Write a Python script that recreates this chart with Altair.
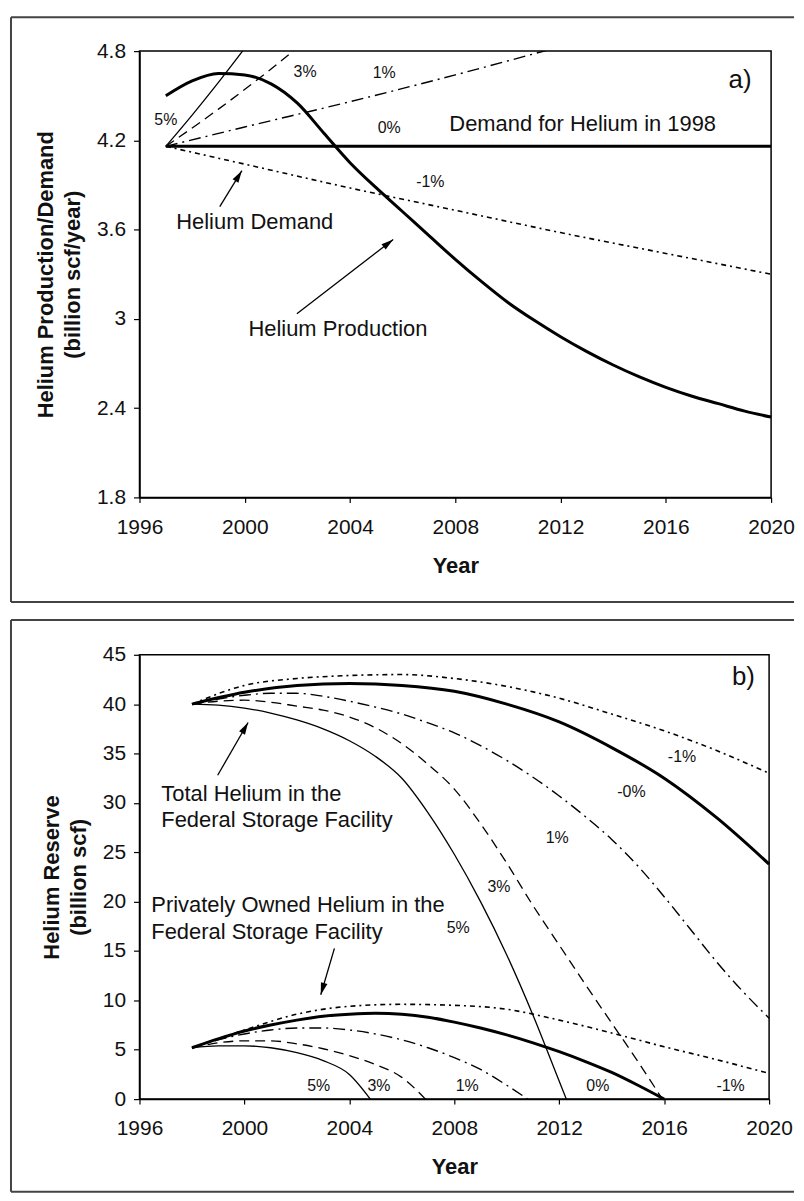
import math
import altair as alt
import pandas as pd

FONT = "Liberation Sans"

# ---------------- Panel a data (billion scf/year) ----------------
prod_years = list(range(1997, 2021))
prod_values = [4.50, 4.60, 4.65, 4.64, 4.58, 4.45, 4.25, 4.05, 3.88, 3.72, 3.56, 3.40,
               3.25, 3.11, 2.99, 2.88, 2.78, 2.69, 2.61, 2.54, 2.48, 2.43, 2.38, 2.34]

dem5_years = [1997, 1998, 1999, 2000, 2001]
dem5_values = [4.16, 4.37, 4.59, 4.82, 5.06]
dem3_years = [1997, 1999, 2001, 2003]
dem3_values = [4.16, 4.41, 4.68, 4.97]
dem1_years = [1997, 2000, 2004, 2008, 2012, 2016, 2020]
dem1_values = [4.16, 4.29, 4.46, 4.64, 4.83, 5.02, 5.23]
dem0_years = [1997, 2020]
dem0_values = [4.16, 4.16]
demm1_years = [1997, 2000, 2004, 2008, 2012, 2016, 2020]
demm1_values = [4.16, 4.04, 3.88, 3.73, 3.58, 3.44, 3.30]

a_x_ticks = [1996, 2000, 2004, 2008, 2012, 2016, 2020]
a_y_ticks = [1.8, 2.4, 3.0, 3.6, 4.2, 4.8]

a_pct_labels = [("5%", 1997.0, 4.34), ("3%", 2002.29, 4.66), ("1%", 2005.30, 4.65),
                ("0%", 2005.49, 4.28), ("-1%", 2007.05, 3.92)]
a_notes = [("Demand for Helium in 1998", 2012.84, 4.313),
           ("Helium Demand", 2000.38, 3.648),
           ("Helium Production", 2003.54, 2.934)]
a_tag = [("a)", 2018.82, 4.606)]
a_arrows = [(1999.05, 3.755, 1999.89, 3.996), (2001.98, 3.034, 2005.64, 3.534)]

# ---------------- Panel b data (billion scf) ----------------
tot_m1_years = [1998, 2000, 2002, 2004, 2006, 2008, 2010, 2012, 2014, 2016, 2018, 2020]
tot_m1_values = [40.0, 41.9, 42.6, 42.9, 43.0, 42.6, 41.8, 40.6, 39.0, 37.3, 35.3, 33.0]
tot_0_years = [1998, 2000, 2002, 2004, 2006, 2008, 2010, 2012, 2014, 2016, 2018, 2020]
tot_0_values = [40.0, 41.2, 41.9, 42.1, 41.9, 41.3, 40.0, 38.2, 35.6, 32.5, 28.5, 23.8]
tot_1_years = [1998, 2000, 2001, 2002, 2003, 2004, 2005, 2006, 2007, 2008, 2009, 2010,
               2011, 2012, 2013, 2014, 2015, 2016, 2017, 2018, 2019, 2020]
tot_1_values = [40.0, 40.9, 41.1, 41.1, 40.8, 40.3, 39.7, 39.0, 38.1, 37.1, 35.8, 34.3,
                32.6, 30.7, 28.6, 26.3, 23.6, 20.5, 17.2, 13.9, 10.9, 8.2]
tot_3_years = [1998, 1999, 2000, 2001, 2002, 2003, 2004, 2005, 2006, 2007, 2008, 2009,
               2010, 2011, 2012, 2013, 2014, 2015, 2015.93]
tot_3_values = [40.0, 40.3, 40.4, 40.2, 39.8, 39.4, 38.7, 37.6, 36.0, 33.9, 31.4, 27.9,
                23.9, 19.6, 15.6, 11.6, 7.7, 3.8, 0.0]
tot_5_years = [1998, 1999, 2000, 2001, 2002, 2003, 2004, 2005, 2006, 2007, 2008, 2009,
               2010, 2011, 2012, 2012.27]
tot_5_values = [40.0, 39.9, 39.6, 39.1, 38.4, 37.5, 36.3, 34.7, 32.5, 29.0, 24.8, 20.0,
                14.6, 8.5, 1.8, 0.0]

pri_m1_years = [1998, 2000, 2002, 2004, 2006, 2008, 2010, 2012, 2014, 2016, 2018, 2020]
pri_m1_values = [5.2, 7.0, 8.6, 9.4, 9.6, 9.5, 9.1, 8.0, 6.7, 5.3, 4.0, 2.6]
pri_0_years = [1998, 1999, 2000, 2001, 2002, 2003, 2004, 2005, 2006, 2007, 2008, 2009,
               2010, 2011, 2012, 2013, 2014, 2015, 2016]
pri_0_values = [5.2, 6.1, 6.9, 7.5, 8.0, 8.4, 8.6, 8.7, 8.6, 8.3, 7.8, 7.2,
                6.5, 5.7, 4.8, 3.8, 2.7, 1.4, 0.0]
pri_1_years = [1998, 1999, 2000, 2001, 2002, 2003, 2004, 2005, 2006, 2007, 2008, 2009,
               2010, 2010.8]
pri_1_values = [5.2, 6.0, 6.6, 7.0, 7.2, 7.2, 7.0, 6.6, 6.0, 5.2, 4.2, 3.0, 1.4, 0.0]
pri_3_years = [1998, 1999, 2000, 2001, 2002, 2003, 2004, 2005, 2006, 2006.9]
pri_3_values = [5.2, 5.7, 5.9, 5.9, 5.6, 5.1, 4.4, 3.5, 2.2, 0.0]
pri_5_years = [1998, 1999, 2000, 2001, 2002, 2003, 2004, 2004.8]
pri_5_values = [5.2, 5.4, 5.4, 5.2, 4.7, 3.9, 2.5, 0.0]

b_x_ticks = [1996, 2000, 2004, 2008, 2012, 2016, 2020]
b_y_ticks = [0, 5, 10, 15, 20, 25, 30, 35, 40, 45]

b_pct_labels = [("-1%", 2016.68, 34.6), ("-0%", 2014.75, 31.1), ("1%", 2011.92, 26.45),
                ("3%", 2009.70, 21.5), ("5%", 2008.15, 17.3),
                ("5%", 2002.83, 1.31), ("3%", 2005.13, 1.31), ("1%", 2008.49, 1.31),
                ("0%", 2013.47, 1.31), ("-1%", 2018.53, 1.31)]
b_notes = [("Total Helium in the", 1996.83, 30.9),
           ("Federal Storage Facility", 1996.83, 28.25),
           ("Privately Owned Helium in the", 1996.45, 19.68),
           ("Federal Storage Facility", 1996.45, 16.95)]
b_tag = [("b)", 2019.02, 42.7)]
b_arrows = [(1998.98, 32.8, 2000.14, 38.14), (2003.43, 15.27, 2002.91, 10.57)]

# ---------------- styles ----------------
S5 = dict(strokeWidth=1.3)
S3 = dict(strokeWidth=1.3, strokeDash=[10, 6])
S1 = dict(strokeWidth=1.4, strokeDash=[12, 5, 2, 5])
S0 = dict(strokeWidth=3)
SM1 = dict(strokeWidth=1.6, strokeDash=[5, 4, 2, 4])

ARROW = "M0,0L-0.35,1.25L0.35,1.25Z"
INK = "#111"

WA, HA = 634, 448
WB, HB = 632, 446
LEFT = 129
RIGHT_END = 796 - 139


def enc_x(ticks):
    return alt.X("year:Q", scale=alt.Scale(domain=[1996, 2020], nice=False, zero=False),
                 axis=alt.Axis(values=ticks, format="d", title="Year", labelFlush=False,
                               tickSize=5, labelPadding=14, titlePadding=18))


def enc_y(domain, ticks, fmt, title):
    return alt.Y("value:Q", scale=alt.Scale(domain=domain, nice=False, zero=False),
                 axis=alt.Axis(values=ticks, format=fmt, title=title, tickSize=6,
                               labelPadding=8, titlePadding=12, titleLineHeight=27))


def line(years, values, style, X, Y, clip=False):
    df = pd.DataFrame({"year": years, "value": values})
    return alt.Chart(df).mark_line(color="black", interpolate="monotone", clip=clip,
                                   **style).encode(x=X, y=Y)


def texts(items, X, Y, size, align="center"):
    df = pd.DataFrame(items, columns=["label", "year", "value"])
    return alt.Chart(df).mark_text(font=FONT, fontSize=size, align=align, baseline="middle",
                                   color=INK).encode(x=X, y=Y, text="label:N")


def arrows(items, X, Y, pxx, pxy):
    layers = []
    for (x0, y0, x1, y1) in items:
        dx = (x1 - x0) * pxx
        dy_up = (y1 - y0) * pxy
        ang = math.degrees(math.atan2(dx, dy_up)) % 360
        df = pd.DataFrame({"year": [x0, x1], "value": [y0, y1]})
        layers.append(alt.Chart(df).mark_line(color="black", strokeWidth=1.3).encode(x=X, y=Y))
        hd = pd.DataFrame({"year": [x1], "value": [y1]})
        layers.append(alt.Chart(hd).mark_point(shape=ARROW, filled=True, color="black",
                                               opacity=1, size=380, angle=ang).encode(x=X, y=Y))
    return layers


def frame(W, H, top, bottom, right_end):
    d = alt.Data(values=[{}])
    style = dict(color="#444", strokeWidth=2)
    t = alt.Chart(d).mark_rule(**style).encode(x=alt.value(-LEFT), x2=alt.value(right_end),
                                                y=alt.value(-top))
    b = alt.Chart(d).mark_rule(**style).encode(x=alt.value(-LEFT), x2=alt.value(right_end),
                                                y=alt.value(H + bottom))
    l = alt.Chart(d).mark_rule(**style).encode(x=alt.value(-LEFT), y=alt.value(-top),
                                                y2=alt.value(H + bottom))
    return [t, b, l]


# ---------------- Panel a ----------------
XA = enc_x(a_x_ticks)
YA = enc_y([1.8, 4.8], a_y_ticks, "~g", ["Helium Production/Demand", "(billion scf/year)"])

layers_a = frame(WA, HA, 34, 105, RIGHT_END) + [
    line(dem0_years, dem0_values, S0, XA, YA),
    line(demm1_years, demm1_values, SM1, XA, YA),
    line(dem1_years, dem1_values, S1, XA, YA, clip=True),
    line(dem3_years, dem3_values, S3, XA, YA, clip=True),
    line(dem5_years, dem5_values, S5, XA, YA, clip=True),
    line(prod_years, prod_values, S0, XA, YA),
    texts(a_pct_labels, XA, YA, 16),
    texts(a_notes, XA, YA, 22),
    texts(a_tag, XA, YA, 26),
] + arrows(a_arrows, XA, YA, WA / 24, HA / 3.0)

panel_a = alt.layer(*layers_a).properties(width=WA, height=HA)

# ---------------- Panel b ----------------
XB = enc_x(b_x_ticks)
YB = enc_y([0, 45], b_y_ticks, "d", ["Helium Reserve", "(billion scf)"])

layers_b = frame(WB, HB, 35, 93, RIGHT_END) + [
    line(tot_m1_years, tot_m1_values, SM1, XB, YB),
    line(tot_0_years, tot_0_values, S0, XB, YB),
    line(tot_1_years, tot_1_values, S1, XB, YB),
    line(tot_3_years, tot_3_values, S3, XB, YB),
    line(tot_5_years, tot_5_values, S5, XB, YB),
    line(pri_m1_years, pri_m1_values, SM1, XB, YB),
    line(pri_0_years, pri_0_values, S0, XB, YB),
    line(pri_1_years, pri_1_values, S1, XB, YB),
    line(pri_3_years, pri_3_values, S3, XB, YB),
    line(pri_5_years, pri_5_values, S5, XB, YB),
    texts(b_pct_labels, XB, YB, 16),
    texts(b_notes, XB, YB, 22, align="left"),
    texts(b_tag, XB, YB, 26),
] + arrows(b_arrows, XB, YB, WB / 24, HB / 45.0)

panel_b = alt.layer(*layers_b).properties(width=WB, height=HB)

chart = (
    alt.vconcat(panel_a, panel_b, spacing=14)
    .properties(padding={"left": 1, "top": 5, "right": 0, "bottom": 0}, background="white")
    .configure_view(stroke="black", strokeWidth=1.5)
    .configure_axis(
        grid=False,
        domainColor="black",
        domainWidth=1.5,
        tickColor="black",
        tickWidth=1.2,
        labelFont=FONT,
        labelFontSize=21,
        labelColor=INK,
        titleFont=FONT,
        titleFontSize=22,
        titleFontWeight="bold",
        titleColor=INK,
    )
)

chart.save("out.html", embed_options={"renderer": "svg", "actions": False})
